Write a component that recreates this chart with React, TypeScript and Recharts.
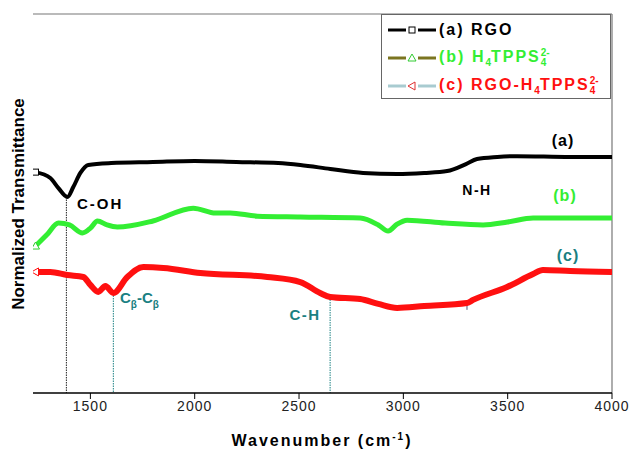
import { Line, LineChart, ReferenceLine, XAxis, YAxis } from 'recharts';

const FONT = '"Liberation Sans", Arial, sans-serif';
const TEAL = '#1a8082';

// (a) RGO
const rgoWn = [1237, 1308, 1347, 1390, 1418, 1452, 1490, 1600, 1800, 2000, 2200, 2400, 2506, 2650, 2807, 2970, 3100, 3210, 3300, 3353, 3450, 3545, 3800, 4000];
const rgoT = [10.49, 10.21, 9.73, 9.31, 9.78, 10.45, 10.83, 10.92, 10.97, 11.02, 10.97, 10.92, 10.83, 10.64, 10.45, 10.4, 10.45, 10.54, 10.87, 11.11, 11.21, 11.25, 11.21, 11.21];

// (b) H4TPPS4 2-
const tppsWn = [1237, 1290, 1347, 1400, 1462, 1500, 1534, 1580, 1629, 1800, 1993, 2100, 2170, 2300, 2506, 2793, 2880, 2927, 2970, 3018, 3200, 3382, 3500, 3622, 4000];
const tppsT = [6.98, 7.5, 8.07, 7.98, 7.6, 7.83, 8.17, 7.98, 7.88, 8.17, 8.78, 8.55, 8.55, 8.4, 8.36, 8.31, 7.98, 7.69, 8.02, 8.21, 8.07, 7.98, 8.12, 8.31, 8.31];

// (c) RGO-H4TPPS4 2-
const hybWn = [1237, 1308, 1390, 1466, 1500, 1538, 1572, 1610, 1677, 1754, 1850, 2027, 2348, 2506, 2601, 2649, 2793, 2880, 2970, 3100, 3305, 3334, 3497, 3622, 3669, 3800, 4000];
const hybT = [5.75, 5.75, 5.6, 5.51, 5.13, 4.8, 5.08, 4.75, 5.51, 5.98, 5.94, 5.7, 5.51, 5.27, 4.75, 4.56, 4.46, 4.23, 4.04, 4.13, 4.27, 4.42, 5.03, 5.65, 5.84, 5.79, 5.75];

// marked bands: wavenumber and the transmittance where the drop line starts
const bandWn = [1385, 1610, 2649];
const bandTop = [9.31, 4.75, 4.56];
const bandColor = ['#222', TEAL, TEAL];

const xTicks = [1500, 2000, 2500, 3000, 3500, 4000];
const yTicks = Array.from({ length: 19 }, (_, i) => i);

const toPoints = (wn: number[], t: number[]) => wn.map((w, i) => ({ wn: w, v: t[i] }));

const startDot = (kind: 'square' | 'tri' | 'left', color: string) => (p: any) => {
  if (p.index !== 0) return <g key={p.index} />;
  const { cx, cy } = p;
  if (kind === 'square') return <rect key="s" x={cx - 3} y={cy - 3} width={6} height={6} fill="#fff" stroke={color} strokeWidth={1} />;
  if (kind === 'tri') return <path key="s" d={`M${cx},${cy - 4} L${cx + 4},${cy + 3} L${cx - 4},${cy + 3} Z`} fill="#fff" stroke={color} strokeWidth={1} />;
  return <path key="s" d={`M${cx - 4},${cy} L${cx + 3},${cy - 4} L${cx + 3},${cy + 4} Z`} fill="#fff" stroke={color} strokeWidth={1} />;
};

const LegendRow = ({ line, mark, children }: { line: string; mark: React.ReactNode; children: React.ReactNode }) => (
  <div style={{ display: 'flex', alignItems: 'center', height: 28 }}>
    <svg width={52} height={14}>
      <line x1={2} x2={20} y1={7} y2={7} stroke={line} strokeWidth={3} />
      {mark}
      <line x1={32} x2={50} y1={7} y2={7} stroke={line} strokeWidth={3} />
    </svg>
    <div style={{ fontFamily: FONT, fontWeight: 700, fontSize: 16, letterSpacing: 2, marginLeft: 1, whiteSpace: 'nowrap' }}>{children}</div>
  </div>
);

const Sub = ({ s }: { s: string }) => <sub style={{ fontSize: 10, letterSpacing: 0 }}>{s}</sub>;
const SubSup = () => (
  <span style={{ display: 'inline-flex', flexDirection: 'column', fontSize: 10, lineHeight: '10px', verticalAlign: 'middle', letterSpacing: 0 }}>
    <span>2-</span>
    <span>4</span>
  </span>
);

export default function App() {
  return (
    <div style={{ position: 'absolute', left: 0, top: 0, width: 629, height: 451, background: '#fff' }}>
      <LineChart width={629} height={451} margin={{ top: 14, right: 17, left: 33, bottom: 28 }}>
        <XAxis
          type="number"
          dataKey="wn"
          domain={[1225, 4000]}
          ticks={xTicks}
          allowDataOverflow
          height={30}
          axisLine={{ stroke: '#000', strokeWidth: 1.5 }}
          tickLine={{ stroke: '#000' }}
          tickSize={6}
          tick={{ fill: '#222', fontSize: 14, fontFamily: FONT, letterSpacing: 1 }}
        />
        <YAxis
          type="number"
          domain={[0, 18]}
          ticks={yTicks}
          mirror
          width={0}
          tickSize={4}
          axisLine={{ stroke: '#000', strokeWidth: 1.5 }}
          tickLine={{ stroke: '#444' }}
          tick={() => <g />}
        />
        <ReferenceLine y={18} stroke="#777" strokeWidth={1.2} />
        <ReferenceLine x={4000} stroke="#777" strokeWidth={1.2} />
        {bandWn.map((w, i) => (
          <ReferenceLine
            key={w}
            segment={[{ x: w, y: bandTop[i] }, { x: w, y: 0 }]}
            stroke={bandColor[i]}
            strokeWidth={1}
            strokeDasharray="1.5 1"
          />
        ))}
        <ReferenceLine segment={[{ x: 3305, y: 4.27 }, { x: 3305, y: 3.95 }]} stroke="#557" strokeWidth={1} />
        <Line type="monotone" data={toPoints(hybWn, hybT)} dataKey="v" stroke="#ff1010" strokeWidth={6} dot={startDot('left', '#ff1010')} isAnimationActive={false} />
        <Line type="monotone" data={toPoints(tppsWn, tppsT)} dataKey="v" stroke="#33ee33" strokeWidth={5} dot={startDot('tri', '#33cc33')} isAnimationActive={false} />
        <Line type="monotone" data={toPoints(rgoWn, rgoT)} dataKey="v" stroke="#000" strokeWidth={4} dot={startDot('square', '#000')} isAnimationActive={false} />
      </LineChart>

      <svg width={629} height={451} style={{ position: 'absolute', left: 0, top: 0, pointerEvents: 'none' }} fontFamily={FONT} fontWeight={700}>
        <text transform="translate(24,204) rotate(-90)" textAnchor="middle" fontSize={17} fill="#000">Normalized Transmittance</text>
        <text x={322} y={446} textAnchor="middle" fontSize={16} letterSpacing={2} fill="#000">
          Wavenumber (cm<tspan dy={-6} fontSize={10}>-1</tspan><tspan dy={6}>)</tspan>
        </text>
        <text x={563} y={146} textAnchor="middle" fontSize={16} letterSpacing={1} fill="#000">(a)</text>
        <text x={565} y={201} textAnchor="middle" fontSize={16} letterSpacing={1} fill="#33ee33">(b)</text>
        <text x={568} y={261} textAnchor="middle" fontSize={16} letterSpacing={1} fill={TEAL}>(c)</text>
        <text x={77} y={209} fontSize={15} letterSpacing={2} fill="#000">C-OH</text>
        <text x={477} y={195} textAnchor="middle" fontSize={14} letterSpacing={1.5} fill="#000">N-H</text>
        <text x={120} y={303} fontSize={15} fill={TEAL}>
          C<tspan dy={5} fontSize={10}>β</tspan><tspan dy={-5}>-C</tspan><tspan dy={5} fontSize={10}>β</tspan>
        </text>
        <text x={305} y={320} textAnchor="middle" fontSize={15} letterSpacing={1.5} fill={TEAL}>C-H</text>
      </svg>

      <div style={{ position: 'absolute', left: 381, top: 14, width: 230, height: 85, border: '1px solid #666', background: '#fff', padding: '1px 0 0 4px', boxSizing: 'border-box' }}>
        <LegendRow line="#000" mark={<rect x={23} y={4} width={6} height={6} fill="#fff" stroke="#000" />}>
          <span style={{ color: '#000' }}>(a) RGO</span>
        </LegendRow>
        <LegendRow line="#7b7520" mark={<path d="M26,3 L30,10 L22,10 Z" fill="#fff" stroke="#33cc33" />}>
          <span style={{ color: '#33ee33' }}>(b) H<Sub s="4" />TPPS<SubSup /></span>
        </LegendRow>
        <LegendRow line="#a8cbd0" mark={<path d="M22,7 L29,3 L29,11 Z" fill="#fff" stroke="#e03030" />}>
          <span style={{ color: '#ff1010' }}>(c) RGO-H<Sub s="4" />TPPS<SubSup /></span>
        </LegendRow>
      </div>
    </div>
  );
}
